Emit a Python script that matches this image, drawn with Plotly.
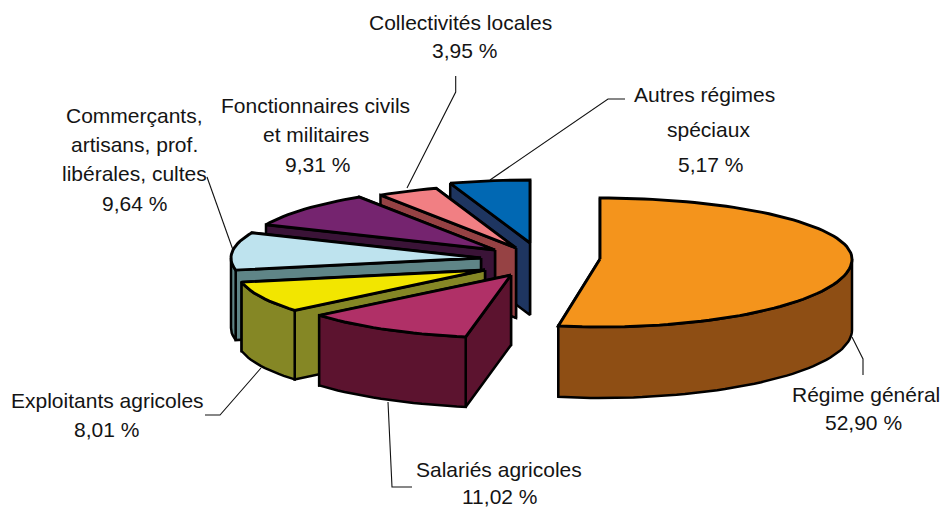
import math
import plotly.graph_objects as go

# Data
categories = ["Régime général", "Salariés agricoles", "Exploitants agricoles",
              "Commerçants, artisans, prof. libérales, cultes",
              "Fonctionnaires civils et militaires", "Collectivités locales",
              "Autres régimes spéciaux"]
values = [52.90, 11.02, 8.01, 9.64, 9.31, 3.95, 5.17]

# Style and layout
top_colors = ["#F4941C", "#B03067", "#F2E600", "#BEE3EE", "#75246F", "#F17F83", "#0168B3"]
side_colors = ["#8E4E14", "#5C132F", "#858725", "#5F8587", "#3A1337", "#964244", "#1E3560"]
apex_x = [600, 511, 485, 481, 495, 516, 530]
apex_y = [259, 275, 270, 258, 250, 248, 243]
radius_right = [252, 250, 245, 250, 250, 250, 250]
radius_left = [230, 250, 248, 250, 250, 250, 250]
radius_back = [61, 63, 63, 63, 63, 63, 63]
radius_front = [68, 63, 63, 63, 63, 63, 63]
depth = [71, 70, 69, 70, 70, 70, 72]

label_lines = [
    (["Régime général"], [866, 863], [394, 422]),
    (["Salariés agricoles"], [499, 500], [469, 496.5]),
    (["Exploitants agricoles"], [107, 106], [400, 429]),
    (["Commerçants,", "artisans, prof.", "libérales, cultes", ], [134, 134, 134, 134], [115, 144, 173, 203]),
    (["Fonctionnaires civils", "et militaires"], [315, 316, 317], [105, 134, 164]),
    (["Collectivités locales"], [460, 464], [22, 50]),
    (["Autres régimes", "spéciaux"], [704, 708, 710], [94, 129, 164]),
]
leaders = [
    ([852, 863, 863], [337, 359, 375]),
    ([388, 392, 412], [402, 487, 487]),
    ([261, 220, 205], [368, 415, 415]),
    ([207, 233], [177, 250]),
    ([455.7, 455.7, 407], [76, 92, 188]),
    ([625, 608, 490], [99, 99, 180]),
]
LW = 2.5
FONT = "Liberation Sans, Arial, sans-serif"
TEXT = "#141414"

fig = go.Figure()


def poly(xs, ys, color, width=LW):
    fig.add_trace(go.Scatter(x=list(xs) + [xs[0]], y=list(ys) + [ys[0]], mode="lines",
                             fill="toself", fillcolor=color,
                             line=dict(color="#000000", width=width, shape="linear"),
                             hoverinfo="skip", showlegend=False))


for lx, ly in leaders:
    fig.add_trace(go.Scatter(x=lx, y=ly, mode="lines", line=dict(color="#111111", width=1.1),
                             hoverinfo="skip", showlegend=False))

total = sum(values)
starts = []
acc = 0.0
for v in values:
    starts.append(acc)
    acc += v / total * 360.0


def point(i, deg):
    a = math.radians(deg)
    s, c = math.sin(a), math.cos(a)
    rx = radius_right[i] if s >= 0 else radius_left[i]
    ry = radius_back[i] if c >= 0 else radius_front[i]
    return apex_x[i] + rx * s, apex_y[i] - ry * c


def arc(i, a0, a1):
    n = max(2, int(abs(a1 - a0) / 2) + 1)
    return [point(i, a0 + (a1 - a0) * k / (n - 1)) for k in range(n)]


# Back to front: small slices from the far side round to the near side, then the big slice
for i in [6, 5, 4, 3, 2, 1, 0]:
    a0 = starts[i]
    a1 = a0 + values[i] / total * 360.0
    d = depth[i]
    ax, ay = apex_x[i], apex_y[i]
    faces = []
    for deg, visible in ((a0, math.sin(math.radians(a0)) < -1e-9),
                         (a1, math.sin(math.radians(a1)) > 1e-9)):
        faces.append((visible, deg))
    faces.sort(key=lambda f: f[0])
    for visible, deg in faces:
        px, py = point(i, deg)
        poly([ax, px, px, ax], [ay, py, py + d, ay + d], side_colors[i])
    lo, hi = max(a0, 90.0), min(a1, 270.0)
    if hi > lo:
        pts = arc(i, lo, hi)
        xs = [p[0] for p in pts] + [p[0] for p in reversed(pts)]
        ys = [p[1] for p in pts] + [p[1] + d for p in reversed(pts)]
        poly(xs, ys, side_colors[i])
    pts = arc(i, a0, a1)
    poly([ax] + [p[0] for p in pts], [ay] + [p[1] for p in pts], top_colors[i], LW + 0.4)

for i, (lines, cxs, ys) in enumerate(label_lines):
    pct = f"{values[i]:.2f}".replace(".", ",") + " %"
    for txt, cx, y in zip(lines + [pct], cxs, ys):
        fig.add_annotation(x=cx, y=y, text=txt, showarrow=False, xanchor="center", yanchor="middle",
                           font=dict(family=FONT, size=21, color=TEXT))

fig.update_layout(width=944, height=508, margin=dict(l=0, r=0, t=0, b=0),
                  paper_bgcolor="#FFFFFF", plot_bgcolor="#FFFFFF", showlegend=False,
                  xaxis=dict(range=[0, 944], visible=False, fixedrange=True),
                  yaxis=dict(range=[508, 0], visible=False, fixedrange=True))
fig.write_html("out.html", config={"displayModeBar": False},
               post_script="document.body.style.margin='0';document.body.style.overflow='hidden';")
